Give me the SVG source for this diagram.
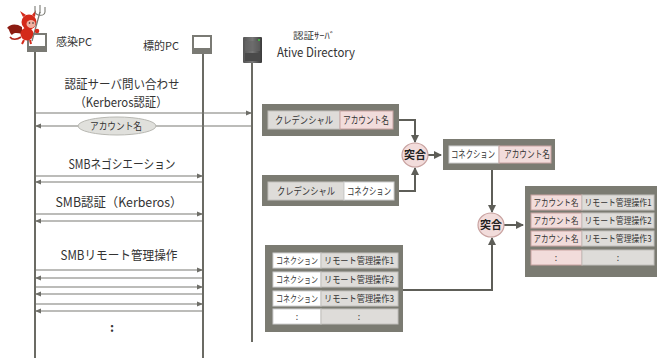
<svg xmlns="http://www.w3.org/2000/svg" width="659" height="358" viewBox="0 0 659 358">
  <style>
    text { font-family: "Noto Sans CJK JP", "Liberation Sans", sans-serif; fill: #333; }
    .msg { font-size: 12.5px; text-anchor: middle; }
    .cell { font-size: 10px; text-anchor: middle; }
    .sm { font-size: 8.8px; }
    .lbl { font-size: 11px; }
    .life { stroke: #6b6b64; stroke-width: 2; fill: none; }
    .arr { stroke: #7a7a74; stroke-width: 1.2; fill: none; }
    .conn { stroke: #5e5e58; stroke-width: 2; fill: none; }
    .outer { fill: #7b7b72; }
    .pink { fill: #f2dcdb; stroke: #c9a3a1; stroke-width: 1; }
    .gray { fill: #dedcd9; stroke: #c2c0bc; stroke-width: 1; }
    .white { fill: #ffffff; stroke: #d0d0d0; stroke-width: 1; }
    .match { fill: #f2dcdb; stroke: #c9a3a1; stroke-width: 1.2; }
    .matchtxt { font-size: 11px; font-weight: bold; text-anchor: middle; fill: #222; }
    .pc { fill: #fff; stroke: #7a7a74; stroke-width: 2; }
  </style>
  <defs>
    <marker id="tri" markerWidth="6" markerHeight="6" refX="5" refY="3" orient="auto" markerUnits="userSpaceOnUse">
      <path d="M0,0.5 L6,3 L0,5.5 Z" fill="#6e6e68"/>
    </marker>
    <marker id="big" markerWidth="9" markerHeight="9" refX="7" refY="4.5" orient="auto" markerUnits="userSpaceOnUse">
      <path d="M0,0.5 L8,4.5 L0,8.5 Z" fill="#5e5e58"/>
    </marker>
    <linearGradient id="srv" x1="0" y1="0" x2="1" y2="0">
      <stop offset="0" stop-color="#555"/>
      <stop offset="0.5" stop-color="#777"/>
      <stop offset="1" stop-color="#3a3a3a"/>
    </linearGradient>
  </defs>

  <!-- infected PC with devil -->
  <g id="infected-pc">
    <line class="life" x1="35" y1="52" x2="35" y2="358"/>
    <rect class="pc" x="28" y="34" width="18" height="13"/>
    <rect x="27" y="48" width="20" height="4" fill="#7a7a74"/>
    <text class="lbl" x="56" y="46">感染PC</text>
    <!-- devil: wings, tail, body, head, trident -->
    <path d="M22,27 C16,23 10,24 7,28 C10,29 9,33 12,35 C14,32 18,33 22,34 Z" fill="#8c1c12"/>
    <path d="M21,37 C17,40 12,40 10,37" stroke="#b0241a" stroke-width="1.6" fill="none"/>
    <ellipse cx="27" cy="34" rx="6.5" ry="6.5" fill="#d42a1a"/>
    <circle cx="29" cy="22" r="7.5" fill="#d42a1a"/>
    <ellipse cx="31" cy="24" rx="4.5" ry="4" fill="#f2b0a0"/>
    <circle cx="29.5" cy="23" r="0.8" fill="#222"/>
    <circle cx="33" cy="23" r="0.8" fill="#222"/>
    <path d="M23,17 L20,11 L26,15 Z M32,15 L36,10 L35,17 Z" fill="#d42a1a"/>
    <line x1="32" y1="41" x2="40" y2="12" stroke="#7a7a74" stroke-width="1.3"/>
    <path d="M35,11 C35,16 44,17 45,12 M40,5 L40,13 M35,11 L35,6 M45,12 L45,7" stroke="#7a7a74" stroke-width="1.1" fill="none"/>
    <circle cx="37" cy="31" r="2.3" fill="#d42a1a"/>
    <path d="M24,40 L22,44 M30,40 L31,44" stroke="#d42a1a" stroke-width="2"/>
  </g>

  <!-- target PC -->
  <g id="target-pc">
    <line class="life" x1="203" y1="53" x2="203" y2="358"/>
    <rect class="pc" x="193" y="36" width="18" height="13"/>
    <rect x="192" y="50" width="20" height="4" fill="#7a7a74"/>
    <text class="lbl" x="143" y="50">標的PC</text>
  </g>

  <!-- authentication server -->
  <g id="auth-server">
    <line class="life" x1="252" y1="62" x2="252" y2="342"/>
    <rect x="243" y="37" width="19" height="26" rx="1" fill="url(#srv)"/>
    <rect x="245" y="41" width="15" height="10" fill="#666" opacity="0.6"/>
    <rect x="245" y="53" width="15" height="8" fill="#4a4a4a"/>
    <circle cx="259" cy="40" r="1" fill="#4c4"/>
    <text x="293" y="39" font-size="9.5" fill="#444" textLength="42" lengthAdjust="spacingAndGlyphs">認証ｻｰﾊﾞ</text>
    <text x="277" y="57" font-size="12.5" textLength="78" lengthAdjust="spacingAndGlyphs">Ative Directory</text>
  </g>

  <!-- sequence messages -->
  <g id="messages">
    <text class="msg" x="122" y="89" font-size="11.5" textLength="115" lengthAdjust="spacingAndGlyphs">認証サーバ問い合わせ</text>
    <text class="msg" x="121" y="107" font-size="11.5" textLength="93" lengthAdjust="spacingAndGlyphs">（Kerberos認証）</text>
    <line class="arr" x1="36" y1="113" x2="251" y2="113" marker-end="url(#tri)"/>
    <line class="arr" x1="251" y1="126" x2="36" y2="126" marker-end="url(#tri)"/>
    <ellipse cx="117" cy="126" rx="39" ry="9" fill="#e0e0dc" stroke="#b8b8b2"/>
    <text class="cell" x="116" y="130" textLength="52" lengthAdjust="spacingAndGlyphs">アカウント名</text>

    <text class="msg" x="122" y="169" textLength="107" lengthAdjust="spacingAndGlyphs">SMBネゴシエーション</text>
    <line class="arr" x1="36" y1="176" x2="202" y2="176" marker-end="url(#tri)"/>
    <line class="arr" x1="202" y1="182" x2="36" y2="182" marker-end="url(#tri)"/>

    <text class="msg" x="119" y="207" textLength="127" lengthAdjust="spacingAndGlyphs">SMB認証（Kerberos）</text>
    <line class="arr" x1="36" y1="214" x2="202" y2="214" marker-end="url(#tri)"/>
    <line class="arr" x1="202" y1="221" x2="36" y2="221" marker-end="url(#tri)"/>

    <text class="msg" x="119" y="260" textLength="117" lengthAdjust="spacingAndGlyphs">SMBリモート管理操作</text>
    <line class="arr" x1="36" y1="270" x2="202" y2="270" marker-end="url(#tri)"/>
    <line class="arr" x1="202" y1="278" x2="36" y2="278" marker-end="url(#tri)"/>
    <line class="arr" x1="36" y1="287" x2="202" y2="287" marker-end="url(#tri)"/>
    <line class="arr" x1="202" y1="294" x2="36" y2="294" marker-end="url(#tri)"/>
    <line class="arr" x1="36" y1="304" x2="202" y2="304" marker-end="url(#tri)"/>
    <line class="arr" x1="202" y1="311" x2="36" y2="311" marker-end="url(#tri)"/>
    <text class="msg" x="112" y="332" font-weight="bold">:</text>
  </g>

  <!-- data-flow connectors -->
  <g id="connectors">
    <path class="conn" d="M399,120 H415 V142" marker-end="url(#big)"/>
    <path class="conn" d="M399,191 H415 V168" marker-end="url(#big)"/>
    <path class="conn" d="M428,155 H441" marker-end="url(#big)"/>
    <path class="conn" d="M492,170 V212" marker-end="url(#big)"/>
    <path class="conn" d="M403,290 H492 V238" marker-end="url(#big)"/>
    <path class="conn" d="M504,225 H523" marker-end="url(#big)"/>
  </g>

  <g id="credential-account">
    <rect class="outer" x="262" y="104" width="137" height="32"/>
    <rect class="gray" x="268" y="111" width="72" height="18"/>
    <text class="cell" x="304" y="124" textLength="58" lengthAdjust="spacingAndGlyphs">クレデンシャル</text>
    <rect class="pink" x="340" y="111" width="53" height="18"/>
    <text class="cell" x="366" y="124" textLength="46" lengthAdjust="spacingAndGlyphs">アカウント名</text>
  </g>

  <g id="credential-connection">
    <rect class="outer" x="262" y="175" width="137" height="31"/>
    <rect class="gray" x="268" y="182" width="76" height="18"/>
    <text class="cell" x="306" y="195" textLength="58" lengthAdjust="spacingAndGlyphs">クレデンシャル</text>
    <rect class="white" x="344" y="182" width="50" height="18"/>
    <text class="cell" x="369" y="195" textLength="44" lengthAdjust="spacingAndGlyphs">コネクション</text>
  </g>

  <g id="match-1">
    <ellipse class="match" cx="415" cy="155" rx="13" ry="12"/>
    <text class="matchtxt" x="415" y="159">突合</text>
  </g>

  <g id="connection-account">
    <rect class="outer" x="443" y="139" width="112" height="31"/>
    <rect class="white" x="449" y="146" width="50" height="17"/>
    <text class="cell" x="473" y="158" font-size="8.2" textLength="44" lengthAdjust="spacingAndGlyphs">コネクション</text>
    <rect class="pink" x="499" y="146" width="52" height="17"/>
    <text class="cell" x="527" y="158" font-size="8.2" textLength="46" lengthAdjust="spacingAndGlyphs">アカウント名</text>
  </g>

  <g id="match-2">
    <ellipse class="match" cx="491" cy="225" rx="13" ry="12"/>
    <text class="matchtxt" x="491" y="229">突合</text>
  </g>

  <g id="connection-operations">
    <rect class="outer" x="265" y="245" width="138" height="87"/>
    <rect class="white" x="273" y="253" width="48" height="15"/>
    <text class="cell sm" x="297" y="264" textLength="42" lengthAdjust="spacingAndGlyphs">コネクション</text>
    <rect class="gray" x="321" y="253" width="77" height="15"/>
    <text class="cell sm" x="359" y="264" textLength="70" lengthAdjust="spacingAndGlyphs">リモート管理操作1</text>
    <rect class="white" x="273" y="272" width="48" height="15"/>
    <text class="cell sm" x="297" y="283" textLength="42" lengthAdjust="spacingAndGlyphs">コネクション</text>
    <rect class="gray" x="321" y="272" width="77" height="15"/>
    <text class="cell sm" x="359" y="283" textLength="70" lengthAdjust="spacingAndGlyphs">リモート管理操作2</text>
    <rect class="white" x="273" y="291" width="48" height="15"/>
    <text class="cell sm" x="297" y="302" textLength="42" lengthAdjust="spacingAndGlyphs">コネクション</text>
    <rect class="gray" x="321" y="291" width="77" height="15"/>
    <text class="cell sm" x="359" y="302" textLength="70" lengthAdjust="spacingAndGlyphs">リモート管理操作3</text>
    <rect class="white" x="273" y="309" width="48" height="15"/>
    <text class="cell sm" x="297" y="320">:</text>
    <rect class="gray" x="321" y="309" width="77" height="15"/>
    <text class="cell sm" x="359" y="320">:</text>
  </g>

  <g id="account-operations">
    <rect class="outer" x="525" y="186" width="132" height="91"/>
    <rect class="pink" x="531" y="195" width="51" height="15"/>
    <text class="cell sm" x="556" y="206" textLength="45" lengthAdjust="spacingAndGlyphs">アカウント名</text>
    <rect class="gray" x="582" y="195" width="72" height="15"/>
    <text class="cell sm" x="618" y="206" textLength="67" lengthAdjust="spacingAndGlyphs">リモート管理操作1</text>
    <rect class="pink" x="531" y="213" width="51" height="15"/>
    <text class="cell sm" x="556" y="224" textLength="45" lengthAdjust="spacingAndGlyphs">アカウント名</text>
    <rect class="gray" x="582" y="213" width="72" height="15"/>
    <text class="cell sm" x="618" y="224" textLength="67" lengthAdjust="spacingAndGlyphs">リモート管理操作2</text>
    <rect class="pink" x="531" y="231" width="51" height="15"/>
    <text class="cell sm" x="556" y="242" textLength="45" lengthAdjust="spacingAndGlyphs">アカウント名</text>
    <rect class="gray" x="582" y="231" width="72" height="15"/>
    <text class="cell sm" x="618" y="242" textLength="67" lengthAdjust="spacingAndGlyphs">リモート管理操作3</text>
    <rect class="pink" x="531" y="250" width="51" height="15"/>
    <text class="cell sm" x="556" y="261">:</text>
    <rect class="gray" x="582" y="250" width="72" height="15"/>
    <text class="cell sm" x="618" y="261">:</text>
  </g>
</svg>
